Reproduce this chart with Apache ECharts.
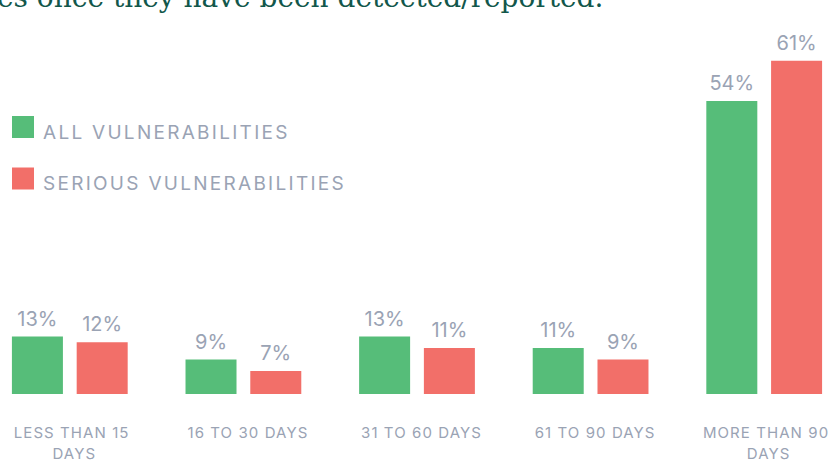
<!DOCTYPE html>
<html>
<head>
<meta charset="utf-8">
<script src="https://cdn.jsdelivr.net/npm/echarts@6/dist/echarts.min.js"></script>
<style>
  html, body { margin: 0; padding: 0; background: #fff; }
  #chart { width: 834px; height: 462px; }
</style>
</head>
<body>
<div id="chart"></div>
<script>
const categories = ['LESS THAN 15 DAYS', '16 TO 30 DAYS', '31 TO 60 DAYS', '61 TO 90 DAYS', 'MORE THAN 90 DAYS'];
const allVulns = [13, 9, 13, 11, 54];
const seriousVulns = [12, 7, 11, 9, 61];
const seriesNames = ['ALL VULNERABILITIES', 'SERIOUS VULNERABILITIES'];

const GREEN = '#56bd79';
const RED = '#f26f69';
const GREY = '#9aa3b4';
const FONT = 'Inter';

const chart = echarts.init(document.getElementById('chart'), null, { renderer: 'svg' });

const labelStyle = {
  show: true,
  position: 'top',
  distance: 8,
  formatter: '{c}%',
  color: GREY,
  fontFamily: FONT,
  fontSize: 20
};

// the caps labels in the original are tracked out a bit
chart.on('finished', function () {
  document.querySelectorAll('#chart text').forEach(function (t) {
    const size = parseFloat(getComputedStyle(t).fontSize);
    if (size < 16) t.style.letterSpacing = (size * 0.072).toFixed(2) + 'px';
    else if (size < 19.5) t.style.letterSpacing = (size * 0.12).toFixed(2) + 'px';
  });
});

chart.setOption({
  animation: false,
  graphic: [{
    type: 'text',
    left: -3,
    top: -17,
    style: {
      text: 'es once they have been detected/reported.',
      font: '28px "DejaVu Serif"',
      fill: '#12574b'
    }
  }],
  legend: {
    orient: 'vertical',
    left: 12,
    top: 116,
    padding: 0,
    itemWidth: 22,
    itemHeight: 22,
    itemGap: 26,
    icon: 'rect',
    data: seriesNames,
    formatter: function (name) {
      return '{t|' + name + '}';
    },
    textStyle: {
      rich: {
        t: {
          color: GREY,
          fontFamily: FONT,
          fontSize: 19,
          padding: [10, 0, 0, 4]
        }
      }
    }
  },
  grid: {
    left: -17,
    right: -17,
    top: 9,
    bottom: 68,
    outerBoundsMode: 'none'
  },
  xAxis: {
    type: 'category',
    data: categories,
    axisLine: { show: false },
    axisTick: { show: false },
    axisLabel: {
      color: GREY,
      fontFamily: FONT,
      fontSize: 15,
      lineHeight: 21,
      margin: 28,
      width: 140,
      padding: [0, 0, 0, 9],
      overflow: 'break',
      interval: 0
    }
  },
  yAxis: {
    type: 'value',
    min: 3,
    max: 70,
    show: false,
    splitLine: { show: false }
  },
  series: [
    {
      name: seriesNames[0],
      type: 'bar',
      data: allVulns,
      barWidth: 51,
      barGap: '27%',
      clip: true,
      itemStyle: { color: GREEN },
      label: labelStyle
    },
    {
      name: seriesNames[1],
      type: 'bar',
      data: seriousVulns,
      barWidth: 51,
      barGap: '27%',
      clip: true,
      itemStyle: { color: RED },
      label: labelStyle
    }
  ]
});
</script>
</body>
</html>
